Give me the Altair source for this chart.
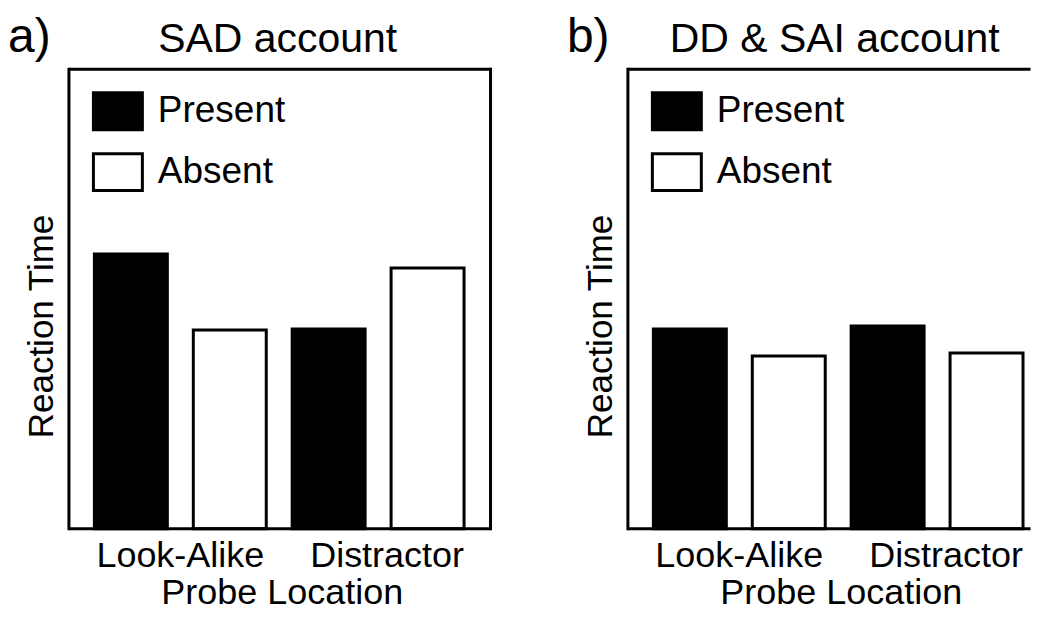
import altair as alt
import pandas as pd

# ---- data ----
locations = ["Look-Alike", "Look-Alike", "Distractor", "Distractor"]
conditions = ["Present", "Absent", "Present", "Absent"]
rt_sad = [275, 199, 200, 261]
rt_dd = [200, 173, 203, 176]
panel_letters = ["a)", "b)"]
panel_titles = ["SAD account", "DD & SAI account"]
loc_order = ["Look-Alike", "Distractor"]
cond_order = ["Present", "Absent"]
cond_colors = ["#000000", "#ffffff"]

FONT = "Liberation Sans"
H = 460


def one_row(text=""):
    return pd.DataFrame({"t": [text]})


def panel(values, letter, title, width, pad_outer, align, title_x, right_border):
    df = pd.DataFrame({"loc": locations, "cond": conditions, "rt": values})
    bars = alt.Chart(df).mark_bar(stroke="black", strokeWidth=3).encode(
        x=alt.X(
            "loc:N",
            sort=loc_order,
            scale=alt.Scale(domain=loc_order, paddingInner=0.131, paddingOuter=pad_outer, align=align),
            axis=alt.Axis(
                title="Probe Location",
                labelAngle=0,
                ticks=False,
                tickSize=0,
                domain=False,
                grid=False,
                labelFont=FONT,
                labelFontSize=36,
                labelColor="black",
                labelPadding=38,
                labelBaseline="alphabetic",
                labelOffset={"condition": {"test": "datum.value === 'Distractor'", "value": 9}, "value": 0},
                titleFont=FONT,
                titleFontSize=36,
                titleFontWeight="normal",
                titleColor="black",
                titleBaseline="alphabetic",
                titleAlign="center",
                titleX=213,
                titleY=75,
            ),
        ),
        xOffset=alt.XOffset(
            "cond:N",
            sort=cond_order,
            scale=alt.Scale(domain=cond_order, paddingInner=0.2626, paddingOuter=0),
        ),
        y=alt.Y(
            "rt:Q",
            scale=alt.Scale(domain=[0, 460], nice=False),
            axis=alt.Axis(
                title="Reaction Time",
                labels=False,
                ticks=False,
                domain=False,
                grid=False,
                titleFont=FONT,
                titleFontSize=35,
                titleFontWeight="normal",
                titleColor="black",
                titleAngle=270,
                titleX=-16,
                titleY=257,
                titleBaseline="alphabetic",
                titleAlign="center",
            ),
        ),
        fill=alt.Fill(
            "cond:N",
            sort=cond_order,
            scale=alt.Scale(domain=cond_order, range=cond_colors),
            legend=alt.Legend(
                title=None,
                orient="none",
                legendX=23,
                legendY=16,
                padding=0,
                symbolType="M-1,-0.755H1V0.755H-1Z",
                symbolSize=2401,
                symbolStrokeColor="black",
                symbolStrokeWidth=3,
                symbolOpacity=1,
                labelFont=FONT,
                labelFontSize=37,
                labelColor="black",
                labelOffset=14,
                labelLimit=400,
                rowPadding=10,
            ),
        ),
    )
    letter_t = alt.Chart(one_row(letter)).mark_text(
        font=FONT, fontSize=48, align="left", baseline="alphabetic", color="black"
    ).encode(text="t:N", x=alt.value(-61), y=alt.value(-17))
    title_t = alt.Chart(one_row(title)).mark_text(
        font=FONT, fontSize=41, align="center", baseline="alphabetic", color="black"
    ).encode(text="t:N", x=alt.value(title_x), y=alt.value(-17))

    # plot frame
    hrule = dict(color="black", strokeWidth=3, strokeCap="butt")
    vrule = dict(color="black", strokeWidth=3, strokeCap="square")
    top = alt.Chart(one_row()).mark_rule(**hrule).encode(
        x=alt.value(0), x2=alt.value(width), y=alt.value(0))
    bottom = alt.Chart(one_row()).mark_rule(**hrule).encode(
        x=alt.value(0), x2=alt.value(width), y=alt.value(H))
    left = alt.Chart(one_row()).mark_rule(**vrule).encode(
        x=alt.value(0), y=alt.value(0), y2=alt.value(H))
    layers = [bars, letter_t, title_t, top, bottom, left]
    if right_border:
        right = alt.Chart(one_row()).mark_rule(**vrule).encode(
            x=alt.value(width), y=alt.value(0), y2=alt.value(H))
        layers.append(right)
    return alt.layer(*layers).properties(width=width, height=H)


pa = panel(rt_sad, panel_letters[0], panel_titles[0], 422, 0.1313, 0.49, 209, True)
pb = panel(rt_dd, panel_letters[1], panel_titles[1], 403, 0.0833, 0.773, 207, False)

chart = (
    alt.hconcat(pa, pb, spacing=73.5)
    .resolve_scale(fill="independent")
    .resolve_legend(fill="independent")
    .properties(padding={"left": 0, "top": 6, "right": 0, "bottom": 0})
    .configure(background="white")
    .configure_view(stroke="transparent", strokeWidth=0)
)

chart.save("out.html", embed_options={"renderer": "svg", "actions": False})
